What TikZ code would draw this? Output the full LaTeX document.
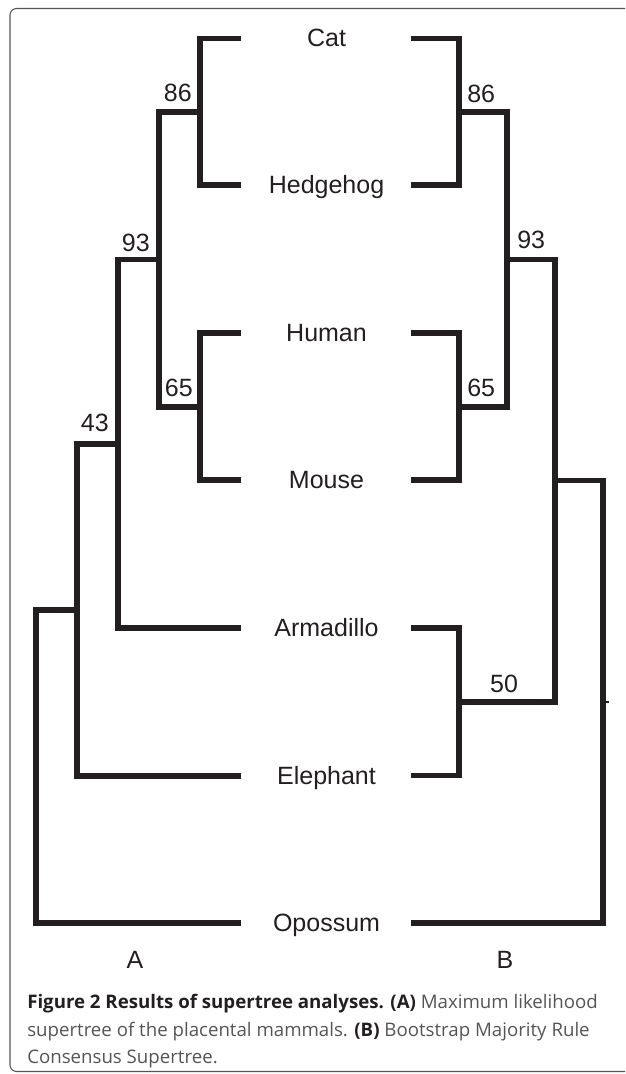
\documentclass[tikz,border=0pt]{standalone}
\usepackage{fontspec}
\setmainfont{Liberation Sans}
\newfontfamily\capfont{Open Sans}
\definecolor{ink}{HTML}{231F20}
\definecolor{capgray}{HTML}{555555}
\definecolor{framegray}{HTML}{555555}
\begin{document}
\begin{tikzpicture}[x=0.75pt,y=-0.75pt,
  branch/.style={draw=ink,line width=4.2pt,line cap=butt,line join=miter},
  taxon/.style={font=\fontsize{18.75}{20}\selectfont,text=ink,inner sep=0pt,anchor=base},
  support/.style={font=\fontsize{18.75}{20}\selectfont,text=ink,inner sep=0pt},
  caption/.style={font=\capfont\fontsize{14}{16}\selectfont,text=capgray,inner sep=0pt,anchor=base west},
  frame/.style={draw=framegray,line width=0.8pt,rounded corners=5pt}]
\useasboundingbox (0,0) rectangle (625,1074);
% frame (open on the right)
\draw[frame] (625,8.5) -- (10,8.5) -- (10,1071.5) -- (625,1071.5);

% taxon labels
\node[taxon] (cat) at (326.5,47) {Cat};
\node[taxon] (hed) at (326.5,193.5) {Hedgehog};
\node[taxon] (hum) at (326.5,341.5) {Human};
\node[taxon] (mou) at (326.5,488.5) {Mouse};
\node[taxon] (arm) at (326.5,636.5) {Armadillo};
\node[taxon] (ele) at (326.5,784) {Elephant};
\node[taxon] (opo) at (326.5,931.5) {Opossum};

% tips, tree A
\coordinate (aCat) at (241,38.5);
\coordinate (aHed) at (241,185);
\coordinate (aHum) at (241,333);
\coordinate (aMou) at (241,480);
\coordinate (aArm) at (241,628);
\coordinate (aEle) at (241,776);
\coordinate (aOpo) at (241,923);
% internal nodes, tree A
\coordinate (a86) at (200,112);
\coordinate (a65) at (200,407);
\coordinate (a93) at (159,259.5);
\coordinate (a43) at (118,444);
\coordinate (aE)  at (77,610);
\coordinate (aR)  at (36,766.5);

\draw[branch] (aCat) -| (a86) |- (aHed);
\draw[branch] (aHum) -| (a65) |- (aMou);
\draw[branch] (a86) -| (a93) |- (a65);
\draw[branch] (a93) -| (a43) |- (aArm);
\draw[branch] (a43) -| (aE) |- (aEle);
\draw[branch] (aE) -| (aR) |- (aOpo);

\node[support,anchor=south east] (sa86) at ([shift={(-8,-10)}]a86) {86};
\node[support,anchor=south east] (sa93) at ([shift={(-9,-7.5)}]a93) {93};
\node[support,anchor=south east] (sa65) at ([shift={(-7,-10)}]a65) {65};
\node[support,anchor=south east] (sa43) at ([shift={(-9,-12)}]a43) {43};

% tips, tree B
\coordinate (bCat) at (411,38.5);
\coordinate (bHed) at (411,185);
\coordinate (bHum) at (411,333);
\coordinate (bMou) at (411,480);
\coordinate (bArm) at (411,628);
\coordinate (bEle) at (411,775.5);
\coordinate (bOpo) at (411,923);
% internal nodes, tree B
\coordinate (b86) at (459,112);
\coordinate (b65) at (459,407);
\coordinate (b93) at (507,259.5);
\coordinate (b50) at (459,702);
\coordinate (bX)  at (555,480.5);
\coordinate (bR)  at (603,702);
\coordinate (bStub) at (609,702);

\draw[branch] (bCat) -| (b86) |- (bHed);
\draw[branch] (bHum) -| (b65) |- (bMou);
\draw[branch] (b86) -| (b93) |- (b65);
\draw[branch] (bArm) -| (b50) |- (bEle);
\draw[branch] (b93) -| (bX) |- (b50);
\draw[branch] (bX) -| (bR) |- (bOpo);
\draw[ink,line width=1.5pt] (bR) -- (bStub);

\node[support,anchor=south west] (sb86) at ([shift={(8,-9)}]b86) {86};
\node[support,anchor=south west] (sb93) at ([shift={(10,-10)}]b93) {93};
\node[support,anchor=south west] (sb65) at ([shift={(8,-10)}]b65) {65};
\node[support,anchor=south] (sb50) at ([shift={(45,-9)}]b50) {50};

% panel letters
\node[taxon] (labA) at (135,968) {A};
\node[taxon] (labB) at (505,968) {B};

% caption
\node[caption] (cap1) at (27,1008) {\textcolor{ink}{\bfseries Figure 2 Results of supertree analyses. (A)} Maximum likelihood};
\node[caption] (cap2) at (27,1036) {supertree of the placental mammals. \textcolor{ink}{\bfseries (B)} Bootstrap Majority Rule};
\node[caption] (cap3) at (27,1063.5) {Consensus Supertree.};
\end{tikzpicture}
\end{document}
